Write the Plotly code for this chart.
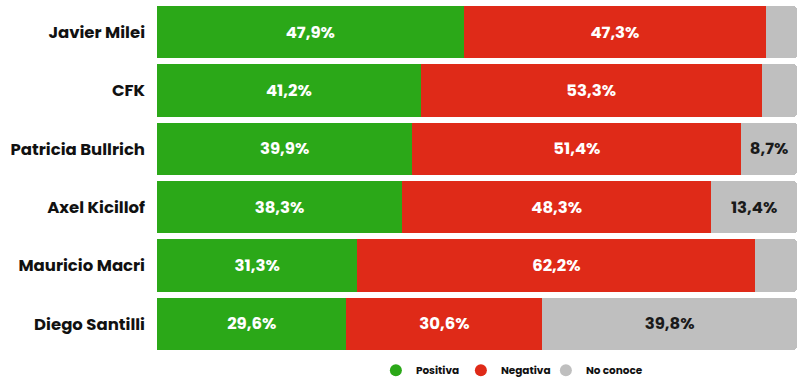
import plotly.graph_objects as go

categories = ["Javier Milei", "CFK", "Patricia Bullrich", "Axel Kicillof", "Mauricio Macri", "Diego Santilli"]
positiva = [47.9, 41.2, 39.9, 38.3, 31.3, 29.6]
negativa = [47.3, 53.3, 51.4, 48.3, 62.2, 30.6]
no_conoce = [4.8, 5.5, 8.7, 13.4, 6.5, 39.8]

series = [("Positiva", positiva, "#2BA818", "white"),
          ("Negativa", negativa, "#DF2A18", "white"),
          ("No conoce", no_conoce, "#BFBFBF", "#1a1a1a")]

def fmt(v):
    return ("%.1f%%" % v).replace(".", ",") if v >= 8 else ""

FONT = "Poppins, Lato, sans-serif"
fig = go.Figure()
for name, vals, color, tcolor in series:
    fig.add_trace(go.Bar(
        y=categories, x=vals, orientation="h", name=name,
        marker=dict(color=color, line=dict(width=0)),
        text=[fmt(v) for v in vals], textposition="inside",
        insidetextanchor="middle", textangle=0,
        textfont=dict(color=tcolor, size=16.5, family=FONT, weight="bold"),
        showlegend=False, hoverinfo="skip"))
    fig.add_trace(go.Scatter(
        x=[None], y=[None], mode="markers", name=name,
        marker=dict(color=color, size=12, symbol="circle")))

# invisible spacer entry so the last legend label is not clipped
fig.add_trace(go.Scatter(x=[None], y=[None], mode="markers", name=" ",
                         marker=dict(color="rgba(0,0,0,0)", size=1)))

fig.update_layout(
    width=800, height=380, barmode="stack", bargap=0.1,
    barcornerradius=4,
    margin=dict(l=157, r=3, t=3, b=27, autoexpand=False),
    plot_bgcolor="white", paper_bgcolor="white",
    uniformtext=dict(minsize=8, mode="show"),
    xaxis=dict(range=[0, 100], visible=False, fixedrange=True, automargin=False),
    yaxis=dict(autorange="reversed", showgrid=False, zeroline=False, automargin=False,
               ticks="", ticklabelstandoff=11,
               tickfont=dict(size=16.5, color="#111", family=FONT, weight="bold")),
    legend=dict(orientation="h", x=0.342, xanchor="left", y=-0.008, yanchor="top",
                traceorder="normal", entrywidth=40, entrywidthmode="pixels",
                font=dict(size=10.5, color="#111", family=FONT, weight="bold"),
                itemwidth=30, tracegroupgap=0),
)
fig.write_html("out.html", config={"displayModeBar": False},
               post_script="document.body.style.margin='0';")
